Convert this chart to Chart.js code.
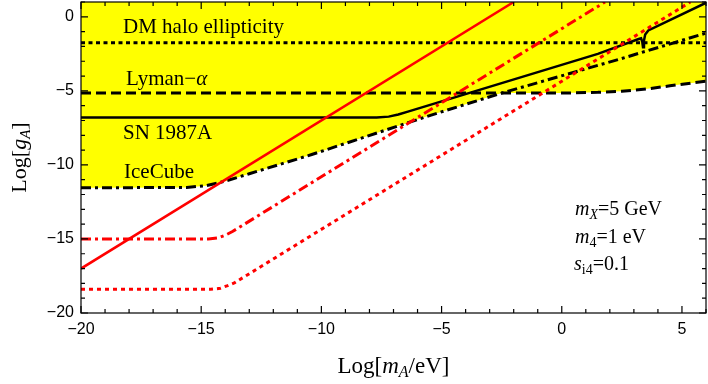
<!DOCTYPE html>
<html><head><meta charset="utf-8">
<script src="https://cdn.jsdelivr.net/npm/chart.js@4"></script>
<style>html,body{margin:0;padding:0;background:#fff}#wrap{width:708px;height:384px}</style>
</head><body><div id="wrap"><canvas id="c" width="708" height="384"></canvas></div>
<script>
// ---- tick values ----
const xTicks = [-20, -15, -10, -5, 0, 5];
const yTicks = [-20, -15, -10, -5, 0];
const xMinor = [-19,-18,-17,-16,-14,-13,-12,-11,-9,-8,-7,-6,-4,-3,-2,-1,1,2,3,4,6];
const yMinor = [-19,-18,-17,-16,-14,-13,-12,-11,-9,-8,-7,-6,-4,-3,-2,-1,1];

// ---- series ----
const redSolidX = [-20, -2];
const redSolidY = [-17, 1];

const redDashDotX = [-20, -14.7, -14.3, -14.0, -13.7, 1.8];
const redDashDotY = [-15, -15, -14.93, -14.75, -14.5, 1];

const redDottedX = [-20, -14.6, -14.2, -13.9, -13.6, 5.35];
const redDottedY = [-18.4, -18.4, -18.33, -18.15, -17.95, 1];

const dmHaloX = [-20, 6];
const dmHaloY = [-1.75, -1.75];

const lymanX = [-20, 0, 1.5, 2.5, 3.5, 4.5, 6];
const lymanY = [-5.15, -5.15, -5.1, -5.03, -4.88, -4.66, -4.35];

const snX = [-20, -7.7, -7.2, -6.8, -6.4, 1.5, 3.2, 3.3, 3.35, 3.38, 3.42, 3.47, 3.6, 6];
const snY = [-6.8, -6.8, -6.74, -6.6, -6.4, -2.5, -1.5, -1.45, -1.7, -2.05, -1.6, -1.2, -0.92, 0.95];

const iceX = [-20, -15.6, -14.8, -14.0, -13.0, -10.4, -5.5, -2.5, 2.4, 6];
const iceY = [-11.55, -11.52, -11.4, -11.1, -10.6, -9.3, -6.67, -5.15, -2.86, -1.1];

const pts = (xs, ys) => xs.map((x, i) => ({x: x, y: ys[i]}));

const YELLOW = '#ffff00';
const RED = '#ff0000';
const SERIF = '"Liberation Serif", "DejaVu Serif", serif';
const SANS = '"Liberation Sans", Arial, sans-serif';

function fmt(v) { return v < 0 ? '\u2212' + Math.abs(v) : String(v); }

function drawRich(ctx, x, y, segs) {
  let cx = x;
  segs.forEach(s => {
    ctx.font = s.f;
    ctx.fillText(s.t, cx, y + (s.dy || 0));
    cx += ctx.measureText(s.t).width + (s.sp || 0);
  });
  return cx - x;
}
function richWidth(ctx, segs) {
  let w = 0;
  segs.forEach(s => { ctx.font = s.f; w += ctx.measureText(s.t).width + (s.sp || 0); });
  return w;
}

const framePlugin = {
  id: 'frame',
  afterDatasetsDraw(chart) {
    const ctx = chart.ctx, a = chart.chartArea;
    const xs = chart.scales.x, ys = chart.scales.y;
    ctx.save();
    ctx.strokeStyle = '#000';
    ctx.lineWidth = 1.2;
    ctx.beginPath();
    const tick = (vals, len) => {
      vals.forEach(v => {
        const px = xs.getPixelForValue(v);
        ctx.moveTo(px, a.bottom); ctx.lineTo(px, a.bottom - len);
        ctx.moveTo(px, a.top); ctx.lineTo(px, a.top + len);
      });
    };
    const tickY = (vals, len) => {
      vals.forEach(v => {
        const py = ys.getPixelForValue(v);
        ctx.moveTo(a.left, py); ctx.lineTo(a.left + len, py);
        ctx.moveTo(a.right, py); ctx.lineTo(a.right - len, py);
      });
    };
    tick(xTicks, 7); tick(xMinor, 4);
    tickY(yTicks, 7); tickY(yMinor, 4);
    ctx.stroke();
    ctx.strokeRect(a.left, a.top, a.right - a.left, a.bottom - a.top);
    ctx.restore();
  },
  afterDraw(chart) {
    const ctx = chart.ctx, a = chart.chartArea;
    ctx.save();
    ctx.fillStyle = '#000';
    ctx.textBaseline = 'alphabetic';
    ctx.textAlign = 'left';
    const F = (s, st) => (st ? st + ' ' : '') + s + 'px ' + SERIF;
    // curve labels
    drawRich(ctx, 123, 33, [{t: 'DM halo ellipticity', f: F(21)}]);
    drawRich(ctx, 126, 85, [{t: 'Lyman\u2212', f: F(21)}, {t: '\u03b1', f: F(21, 'italic')}]);
    drawRich(ctx, 123, 139, [{t: 'SN 1987A', f: F(21)}]);
    drawRich(ctx, 124, 178, [{t: 'IceCube', f: F(21)}]);
    // parameters
    drawRich(ctx, 575, 215, [{t: 'm', f: F(20, 'italic')}, {t: 'X', f: F(14, 'italic'), dy: 4}, {t: '=5 GeV', f: F(20)}]);
    drawRich(ctx, 575, 243, [{t: 'm', f: F(20, 'italic')}, {t: '4', f: F(14), dy: 4}, {t: '=1 eV', f: F(20)}]);
    drawRich(ctx, 574, 270, [{t: 's', f: F(20, 'italic')}, {t: 'i4', f: F(14), dy: 4}, {t: '=0.1', f: F(20)}]);
    // x title
    const xt = [{t: 'Log[', f: F(23)}, {t: 'm', f: F(23, 'italic')}, {t: 'A', f: F(16, 'italic'), dy: 4}, {t: '/eV]', f: F(23)}];
    const xw = richWidth(ctx, xt);
    drawRich(ctx, (a.left + a.right) / 2 - xw / 2, 373, xt);
    // y title
    const yt = [{t: 'Log[', f: F(22)}, {t: 'g', f: F(22, 'italic')}, {t: 'A', f: F(15, 'italic'), dy: 4}, {t: ']', f: F(22)}];
    const yw = richWidth(ctx, yt);
    ctx.translate(26, (a.top + a.bottom) / 2);
    ctx.rotate(-Math.PI / 2);
    drawRich(ctx, -yw / 2, 0, yt);
    ctx.restore();
  }
};

const base = {fill: false, pointRadius: 0, pointHoverRadius: 0, borderCapStyle: 'butt', tension: 0};

new Chart(document.getElementById('c'), {
  type: 'line',
  data: {
    datasets: [
      Object.assign({}, base, {label: 'red solid', data: pts(redSolidX, redSolidY), borderColor: RED, borderWidth: 2.5, order: 0}),
      Object.assign({}, base, {label: 'red dashdot', data: pts(redDashDotX, redDashDotY), borderColor: RED, borderWidth: 3, borderDash: [10, 4, 3, 4], order: 0}),
      Object.assign({}, base, {label: 'red dotted', data: pts(redDottedX, redDottedY), borderColor: RED, borderWidth: 3, borderDash: [4, 4], order: 0}),
      Object.assign({}, base, {label: 'DM halo ellipticity', data: pts(dmHaloX, dmHaloY), borderColor: '#000', borderWidth: 3, borderDash: [4, 3.5], order: 1}),
      Object.assign({}, base, {label: 'Lyman-alpha', data: pts(lymanX, lymanY), borderColor: '#000', borderWidth: 3, borderDash: [10, 5], fill: 'end', backgroundColor: YELLOW, order: 1}),
      Object.assign({}, base, {label: 'SN 1987A', data: pts(snX, snY), borderColor: '#000', borderWidth: 2.5, order: 1}),
      Object.assign({}, base, {label: 'IceCube', data: pts(iceX, iceY), borderColor: '#000', borderWidth: 3, borderDash: [10, 4, 3, 4], fill: 'end', backgroundColor: YELLOW, order: 1})
    ]
  },
  options: {
    responsive: false,
    animation: false,
    events: [],
    layout: {padding: {left: 0, right: 2, top: 2, bottom: 0}},
    plugins: {
      legend: {display: false},
      tooltip: {enabled: false},
      filler: {drawTime: 'beforeDatasetsDraw'}
    },
    scales: {
      x: {
        type: 'linear', min: -20, max: 6,
        afterBuildTicks: s => { s.ticks = xTicks.map(v => ({value: v})); },
        afterFit: s => { s.height = 71; s.paddingLeft = 0; s.paddingRight = 0; },
        grid: {display: false, drawTicks: false},
        border: {display: false},
        ticks: {callback: v => fmt(v), color: '#000', font: {family: SANS, size: 16}, padding: 7, maxRotation: 0, autoSkip: false}
      },
      y: {
        type: 'linear', min: -20, max: 1,
        afterBuildTicks: s => { s.ticks = yTicks.map(v => ({value: v})); },
        afterFit: s => { s.width = 81; s.paddingTop = 0; s.paddingBottom = 0; },
        grid: {display: false, drawTicks: false},
        border: {display: false},
        ticks: {callback: v => fmt(v), color: '#000', font: {family: SANS, size: 16}, padding: 7, autoSkip: false}
      }
    }
  },
  plugins: [framePlugin]
});
</script>
</body></html>
